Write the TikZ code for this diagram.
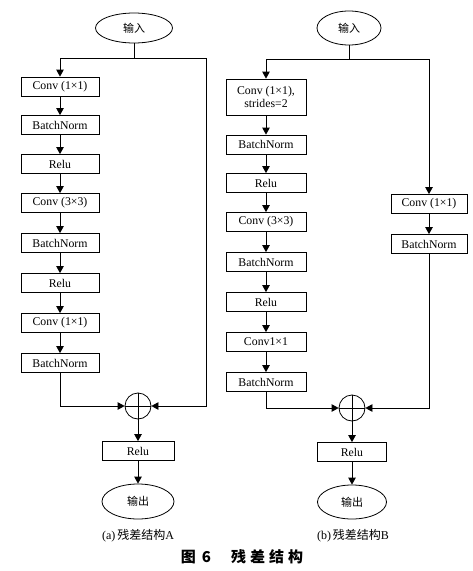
\documentclass[tikz,border=0pt]{standalone}
\usepackage{fontspec}
\setmainfont{Liberation Serif}
\newfontfamily\cjk{Noto Sans CJK SC}
\usetikzlibrary{arrows.meta,shapes.geometric}
\begin{document}
\begin{tikzpicture}[x=1pt,y=-1pt,
  line width=0.8pt,
  arr/.style={-{Triangle[length=7pt,width=7.5pt]}},
  box/.style={draw, rectangle, inner sep=0pt, minimum height=19pt, font=\fontsize{11.8}{13}\selectfont, align=center},
  oval/.style={draw, ellipse, inner sep=0pt, font=\cjk\fontsize{11}{13}\selectfont},
  sum/.style={draw, circle, minimum size=26pt, inner sep=0pt},
  captext/.style={font=\fontsize{12}{14}\selectfont}
]
\useasboundingbox (0,0) rectangle (472,571);

% ---------------- Panel A ----------------
\node[oval, minimum width=77pt, minimum height=30pt] (inA) at (134,28) {输入};
\coordinate (jA) at (134,58);
\coordinate (rA1) at (206,58);
\coordinate (rA2) at (206,406);

\node[box, minimum width=78pt] (a1) at (60,86.5) {Conv (1×1)};
\node[box, minimum width=78pt] (a2) at (60,125) {BatchNorm};
\node[box, minimum width=78pt] (a3) at (60,164) {Relu};
\node[box, minimum width=78pt] (a4) at (60,203) {Conv (3×3)};
\node[box, minimum width=78pt] (a5) at (60,243) {BatchNorm};
\node[box, minimum width=78pt] (a6) at (60,283) {Relu};
\node[box, minimum width=78pt] (a7) at (60,323) {Conv (1×1)};
\node[box, minimum width=78pt] (a8) at (60,363) {BatchNorm};

\node[sum] (sA) at (138,406) {};
\draw (sA.north) -- (sA.south) (sA.west) -- (sA.east);

\node[box, minimum width=72pt] (rA) at (138,451) {Relu};
\node[oval, minimum width=72pt, minimum height=35pt] (oA) at (138,501.5) {输出};

\draw (inA) -- (jA);
\draw[arr] (jA) -| (a1);
\draw[arr] (jA) -- (rA1) -- (rA2) -- (sA);
\draw[arr] (a1) -- (a2);
\draw[arr] (a2) -- (a3);
\draw[arr] (a3) -- (a4);
\draw[arr] (a4) -- (a5);
\draw[arr] (a5) -- (a6);
\draw[arr] (a6) -- (a7);
\draw[arr] (a7) -- (a8);
\draw[arr] (a8) |- (sA);
\draw[arr] (sA) -- (rA);
\draw[arr] (rA) -- (oA);

\node[captext] (capA) at (138,536) {(a)\,{\cjk 残差结构}A};

% ---------------- Panel B ----------------
\node[oval, minimum width=64pt, minimum height=34pt] (inB) at (349,28) {输入};
\coordinate (jB) at (349,59);

\node[box, minimum width=80pt, minimum height=36pt] (b1) at (266,97) {Conv (1×1),\\strides=2};
\node[box, minimum width=80pt] (b2) at (266,144.5) {BatchNorm};
\node[box, minimum width=80pt] (b3) at (266,183) {Relu};
\node[box, minimum width=80pt] (b4) at (266,222) {Conv (3×3)};
\node[box, minimum width=80pt] (b5) at (266,262) {BatchNorm};
\node[box, minimum width=80pt] (b6) at (266,302) {Relu};
\node[box, minimum width=80pt] (b7) at (266,342) {Conv1×1};
\node[box, minimum width=80pt] (b8) at (266,382) {BatchNorm};

\node[box, minimum width=76pt] (c1) at (429,204) {Conv (1×1)};
\node[box, minimum width=76pt] (c2) at (429,244) {BatchNorm};

\node[sum] (sB) at (352,408) {};
\draw (sB.north) -- (sB.south) (sB.west) -- (sB.east);

\node[box, minimum width=69pt] (rB) at (352,452) {Relu};
\node[oval, minimum width=69pt, minimum height=34pt] (oB) at (352,502) {输出};

\draw (inB) -- (jB);
\draw[arr] (jB) -| (b1);
\draw[arr] (jB) -| (c1);
\draw[arr] (b1) -- (b2);
\draw[arr] (b2) -- (b3);
\draw[arr] (b3) -- (b4);
\draw[arr] (b4) -- (b5);
\draw[arr] (b5) -- (b6);
\draw[arr] (b6) -- (b7);
\draw[arr] (b7) -- (b8);
\draw[arr] (c1) -- (c2);
\draw[arr] (b8) |- (sB);
\draw[arr] (c2) |- (sB);
\draw[arr] (sB) -- (rB);
\draw[arr] (rB) -- (oB);

\node[captext] (capB) at (353,536) {(b)\,{\cjk 残差结构}B};

% ---------------- Title ----------------
\node[font=\cjk\bfseries\fontsize{15}{17}\selectfont] (title) at (242,557)
  {图\hspace{6pt}6\hspace{20pt}残\hspace{4pt}差\hspace{4pt}结\hspace{4pt}构};
\end{tikzpicture}
\end{document}
